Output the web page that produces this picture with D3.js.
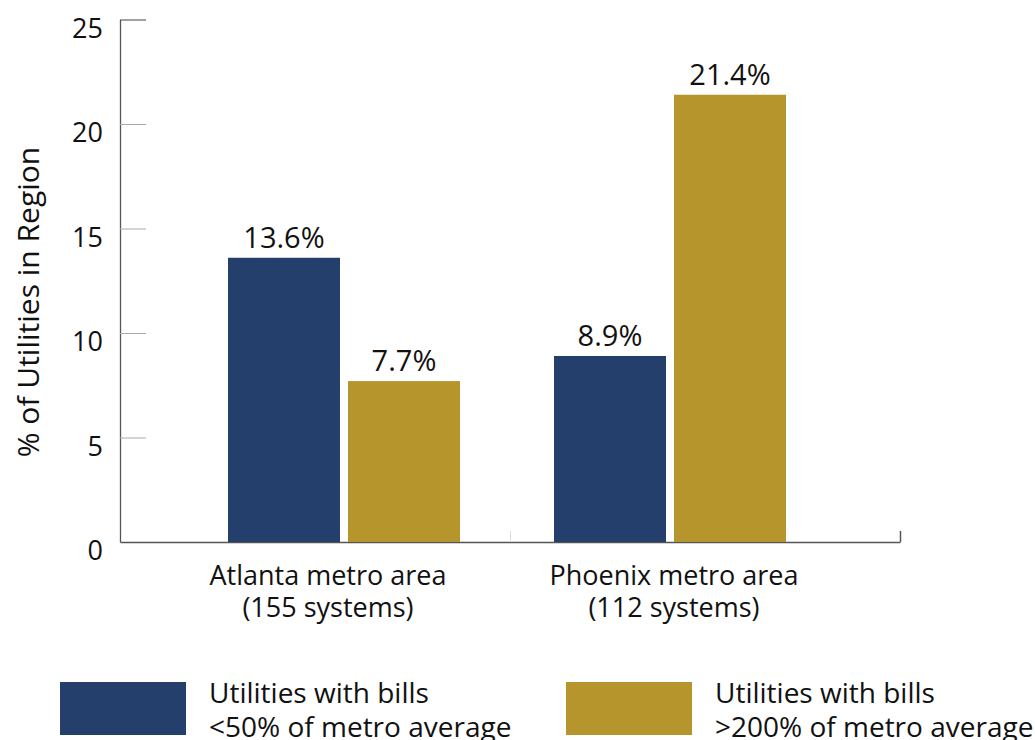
<!DOCTYPE html>
<html>
<head>
<meta charset="utf-8">
<script src="https://cdn.jsdelivr.net/npm/d3@7"></script>
<style>
  html, body { margin: 0; padding: 0; background: #fff; }
  svg { display: block; font-family: "Open Sans", "Noto Sans", sans-serif; }
</style>
</head>
<body>
<svg id="chart" width="1035" height="740"></svg>
<script>
const categories = ["Atlanta metro area", "Phoenix metro area"];
const categorySub = ["(155 systems)", "(112 systems)"];
const seriesNames = ["Utilities with bills\n<50% of metro average", "Utilities with bills\n>200% of metro average"];
const lowBills = [13.6, 8.9];
const highBills = [7.7, 21.4];
const yTicks = [0, 5, 10, 15, 20, 25];
const colors = ["#243f6b", "#b7952d"];

const svg = d3.select("#chart");

const y = d3.scaleLinear().domain([0, 25]).range([542, 19.5]);
const x = d3.scaleBand().domain(categories).range([181, 833]).paddingInner(0).paddingOuter(0);
const xAxisScale = d3.scaleLinear().domain([0, 2]).range([120, 900]);
const sub = d3.scaleBand().domain([0, 1]).range([0, 232]).paddingInner(0.0667);

// Y axis
const yAxis = svg.append("g").attr("transform", "translate(120,0)")
  .call(d3.axisLeft(y).tickValues(yTicks).tickSizeInner(-26).tickSizeOuter(0).tickPadding(17));
yAxis.select(".domain").attr("stroke", "#555").attr("stroke-width", 1.3);
yAxis.selectAll(".tick line").attr("stroke", (d) => d === 25 ? "#444" : "#aaa").attr("stroke-width", 1);
yAxis.selectAll(".tick line").filter(d => d === 0).remove();
yAxis.selectAll(".tick text").attr("font-size", 27).attr("fill", "#111")
  .attr("font-family", "'Open Sans', sans-serif").attr("dy", null).attr("y", 17.5);

// X axis line
const xAxis = svg.append("g").attr("transform", `translate(0,${y(0)})`)
  .call(d3.axisTop(xAxisScale).tickValues([1, 2]).tickSizeInner(11).tickSizeOuter(0).tickFormat(""));
xAxis.select(".domain").attr("stroke", "#555").attr("stroke-width", 1.3);
xAxis.selectAll(".tick line").attr("stroke", d => d === 2 ? "#555" : "#ddd").attr("stroke-width", d => d === 2 ? 1.5 : 1);

// Bars
const data = categories.map((c, i) => ({ cat: c, vals: [lowBills[i], highBills[i]] }));
const groups = svg.append("g").selectAll("g").data(data).join("g")
  .attr("transform", d => `translate(${x(d.cat) + x.bandwidth() / 2 - 116},0)`);

groups.selectAll("rect").data(d => d.vals.map((v, j) => ({ v, j }))).join("rect")
  .attr("x", d => sub(d.j))
  .attr("width", sub.bandwidth())
  .attr("y", d => y(d.v))
  .attr("height", d => y(0) - y(d.v))
  .attr("fill", d => colors[d.j]);

groups.selectAll("text.val").data(d => d.vals.map((v, j) => ({ v, j }))).join("text")
  .attr("class", "val")
  .attr("x", d => sub(d.j) + sub.bandwidth() / 2)
  .attr("y", d => y(d.v) - 10)
  .attr("text-anchor", "middle")
  .attr("font-size", 29)
  .attr("fill", "#111")
  .text(d => d.v.toFixed(1) + "%");

// Category labels (two separate lines)
const labelShift = [-16, 4];
const catX = (d, i) => x(d) + x.bandwidth() / 2 + labelShift[i];
svg.append("g").selectAll("text").data(categories).join("text")
  .attr("x", catX)
  .attr("y", 585)
  .attr("text-anchor", "middle")
  .attr("font-size", 27)
  .attr("fill", "#111")
  .text(d => d);
svg.append("g").selectAll("text").data(categories).join("text")
  .attr("x", catX)
  .attr("y", 617)
  .attr("text-anchor", "middle")
  .attr("font-size", 27)
  .attr("fill", "#111")
  .text((d, i) => categorySub[i]);

// Y axis title
svg.append("text")
  .attr("transform", "translate(39,302) rotate(-90)")
  .attr("text-anchor", "middle")
  .attr("font-size", 30)
  .attr("fill", "#111")
  .text("% of Utilities in Region");

// Legend
const legendX = [60, 566];
const legend = svg.append("g").selectAll("g").data(seriesNames).join("g")
  .attr("transform", (d, i) => `translate(${legendX[i]},682)`);
legend.append("rect").attr("width", 126).attr("height", 53).attr("fill", (d, i) => colors[i]);
legend.append("text").attr("x", 149).attr("y", 21).attr("font-size", 28).attr("fill", "#111")
  .text(d => d.split("\n")[0]);
legend.append("text").attr("x", 149).attr("y", 55).attr("font-size", 28).attr("fill", "#111")
  .text(d => d.split("\n")[1]);
</script>
</body>
</html>
